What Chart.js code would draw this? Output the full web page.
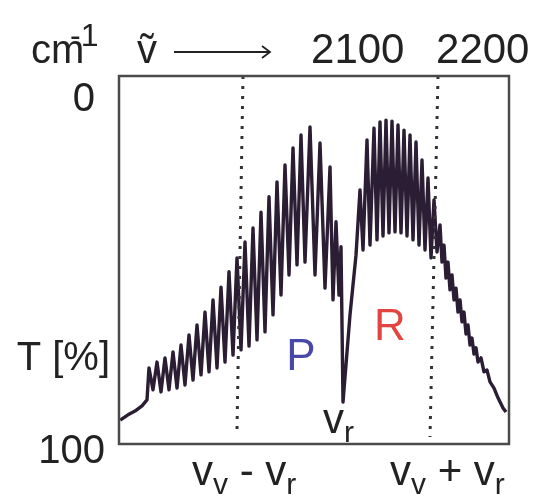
<!DOCTYPE html>
<html>
<head>
<meta charset="utf-8">
<script src="https://cdn.jsdelivr.net/npm/chart.js@4"></script>
<style>
  html, body { margin: 0; padding: 0; background: #fff; }
  canvas { display: block; }
</style>
</head>
<body>
<canvas id="spectrumChart" width="539" height="496"></canvas>
<script>
// wavenumber (cm-1) and transmission (%)
const wavenumbers = [
  1910, 1916.2, 1921.8, 1927.4, 1931.4, 1933, 1936.2, 1939.4, 1942.6, 1945.8,
  1949, 1952.2, 1955.4, 1958.6, 1961.8, 1965, 1968.2, 1971.4, 1974.6, 1977.8,
  1981, 1984.2, 1987.4, 1990.6, 1993.8, 1997, 2000.2, 2003.4, 2006.6, 2009.8,
  2013, 2016.2, 2019.4, 2022.6, 2025.8, 2029, 2032.2, 2035.4, 2038.6, 2041.8,
  2045, 2048.2, 2051.4, 2054.6, 2057.8, 2061.8, 2065.8, 2069.8, 2073.8, 2077.8,
  2080.2, 2082.6, 2085, 2086.6, 2088.2, 2093.8, 2098.6, 2101.8, 2104.2, 2107.4,
  2109.8, 2113, 2115.4, 2117.8, 2120.2, 2122.6, 2125, 2127.4, 2129.8, 2132.2,
  2134.6, 2137, 2139.4, 2141.8, 2144.2, 2146.6, 2149, 2151.4, 2153.8, 2156.2,
  2158.6, 2161, 2163.4, 2165.8, 2167.4, 2169, 2170.6, 2172.2, 2173.8, 2175.4,
  2177, 2178.6, 2180.2, 2181.8, 2183.4, 2185, 2186.6, 2188.2, 2189.8, 2191.4,
  2193, 2194.6, 2196.2, 2198.6, 2201, 2203.4, 2205.8, 2209, 2212.2, 2216.2,
  2218.6
];
const transmission = [
  93.1, 91.6, 90.5, 89.0, 87.3, 78.1, 84.4, 76.4, 85.0, 75.2,
  84.4, 73.5, 83.9, 71.5, 83.0, 68.6, 81.6, 65.7, 80.1, 62.0,
  79.2, 58.5, 78.1, 54.8, 76.4, 50.4, 74.4, 46.4, 72.9, 41.8,
  71.8, 37.8, 70.0, 33.2, 67.7, 28.8, 62.8, 24.5, 57.1, 19.6,
  51.3, 14.7, 48.4, 11.0, 47.6, 8.7, 51.3, 13.3, 55.1, 20.2,
  58.5, 36.0, 57.1, 43.2, 87.9, 62.8, 45.6, 26.8, 44.1, 12.4,
  42.7, 9.0, 41.2, 7.2, 40.1, 6.7, 39.2, 7.0, 38.9, 8.1,
  39.2, 9.6, 40.1, 11.0, 41.2, 13.0, 42.7, 18.2, 44.1, 23.4,
  46.4, 29.7, 44.7, 36.9, 47.6, 42.7, 52.2, 47.6, 55.6, 51.3,
  58.5, 55.1, 62.0, 58.5, 64.8, 62.0, 68.3, 65.7, 71.5, 69.5,
  74.1, 72.3, 76.4, 75.2, 79.2, 78.7, 82.1, 83.9, 86.7, 89.6,
  90.8
];

// dotted markers at vv - vr and vv + vr (top and bottom ends)
const lowerCombW = [2008.2, 2003.4];
const lowerCombT = [-6, 96.0];
const upperCombW = [2164.2, 2157.8];
const upperCombT = [-6, 98.0];

const xTicks = [2100, 2200];
const yTicks = [0, 100];

const FONT = '"Liberation Sans", Arial, sans-serif';
const toPoints = (xs, ys) => xs.map((v, i) => ({ x: v, y: ys[i] }));

function drawParts(ctx, parts, x, y, size, subSize) {
    // parts: [text, isSubscript]
    ctx.textAlign = 'left';
    parts.forEach(([txt, sub]) => {
        ctx.font = (sub ? subSize : size) + 'px ' + FONT;
        ctx.fillText(txt, x, sub ? y + 9 : y);
        x += ctx.measureText(txt).width;
    });
}

const labelsPlugin = {
    id: 'labels',
    afterDraw(chart) {
        const { ctx, chartArea: a, scales } = chart;
        const xs = scales.x, ys = scales.y;
        ctx.save();

        // frame
        ctx.strokeStyle = '#4a4a4a';
        ctx.lineWidth = 2.5;
        ctx.strokeRect(a.left, a.top, a.right - a.left, a.bottom - a.top);

        ctx.fillStyle = '#222';
        ctx.textBaseline = 'alphabetic';

        // top axis labels
        ctx.font = '42px ' + FONT;
        ctx.textAlign = 'center';
        xTicks.forEach(v => ctx.fillText(String(v), xs.getPixelForValue(v), a.top - 13));

        ctx.textAlign = 'left';
        ctx.font = '40px ' + FONT;
        ctx.fillText('cm', 31, 63);
        ctx.font = '32px ' + FONT;
        ctx.fillText('-1', 70, 46);
        ctx.font = '40px ' + FONT;
        ctx.fillText('\u1E7D', 137, 63);

        // arrow
        ctx.strokeStyle = '#222';
        ctx.lineWidth = 1.8;
        ctx.beginPath();
        ctx.moveTo(174, 52);
        ctx.lineTo(270, 52);
        ctx.moveTo(262, 46);
        ctx.lineTo(270, 52);
        ctx.lineTo(262, 58);
        ctx.stroke();

        // left axis labels
        ctx.font = '40px ' + FONT;
        ctx.textAlign = 'right';
        ctx.fillText(String(yTicks[0]), a.left - 24, ys.getPixelForValue(yTicks[0]) + 14);
        ctx.fillText(String(yTicks[1]), a.left - 14, ys.getPixelForValue(yTicks[1]) + 19);
        ctx.fillText('T [%]', a.left - 9, 370);

        // branch labels
        ctx.textAlign = 'center';
        ctx.font = '44px ' + FONT;
        ctx.fillStyle = '#4848a8';
        ctx.fillText('P', xs.getPixelForValue(2054.6), ys.getPixelForValue(78.7));
        ctx.fillStyle = '#e2453f';
        ctx.fillText('R', xs.getPixelForValue(2125.8), ys.getPixelForValue(70.0));

        // vr under the gap
        ctx.fillStyle = '#222';
        drawParts(ctx, [['v', false], ['r', true]], xs.getPixelForValue(2072.2), ys.getPixelForValue(96.8), 42, 30);

        // bottom labels
        const by = a.bottom + 41;
        drawParts(ctx, [['v', false], ['v', true], [' - ', false], ['v', false], ['r', true]],
            xs.getPixelForValue(1967.4), by, 42, 30);
        drawParts(ctx, [['v', false], ['v', true], [' + ', false], ['v', false], ['r', true]],
            xs.getPixelForValue(2125.8), by, 42, 30);

        ctx.restore();
    }
};

const ctx = document.getElementById('spectrumChart').getContext('2d');
const spectrumChart = new Chart(ctx, {
    type: 'line',
    data: {
        datasets: [{
            label: 'vv - vr',
            data: toPoints(lowerCombW, lowerCombT),
            borderColor: '#333',
            borderWidth: 3,
            borderDash: [3, 7],
            pointRadius: 0,
            fill: false
        }, {
            label: 'vv + vr',
            data: toPoints(upperCombW, upperCombT),
            borderColor: '#333',
            borderWidth: 3,
            borderDash: [3, 7],
            pointRadius: 0,
            fill: false
        }, {
            label: 'T',
            data: toPoints(wavenumbers, transmission),
            borderColor: '#2b1d33',
            borderWidth: 3.4,
            borderJoinStyle: 'round',
            pointRadius: 0,
            tension: 0,
            fill: false
        }]
    },
    options: {
        responsive: false,
        animation: false,
        layout: { padding: { left: 119, top: 76, right: 30, bottom: 52 } },
        plugins: {
            legend: { display: false },
            tooltip: { enabled: false }
        },
        scales: {
            x: { type: 'linear', min: 1909, max: 2221, display: false },
            y: { type: 'linear', min: -6, max: 100, reverse: true, display: false }
        }
    },
    plugins: [labelsPlugin]
});
</script>
</body>
</html>
